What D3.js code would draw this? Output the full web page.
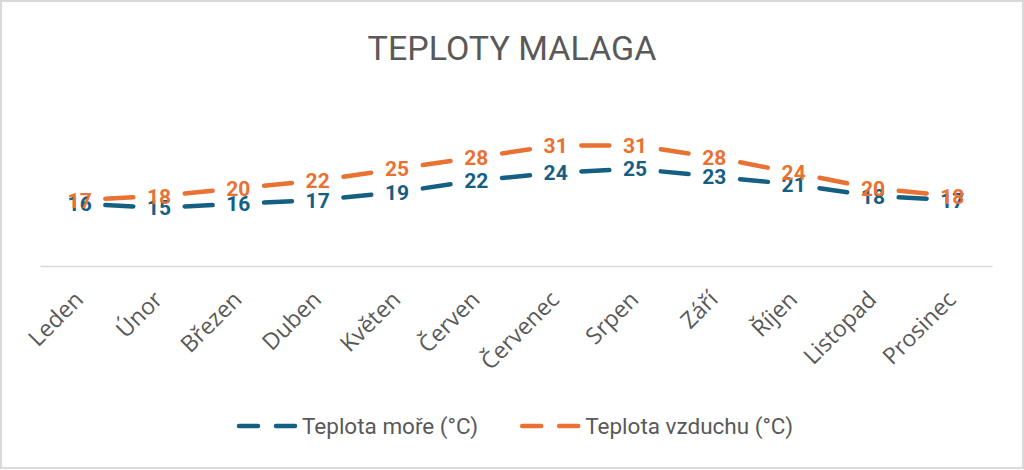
<!DOCTYPE html>
<html>
<head>
<meta charset="utf-8">
<script src="https://cdn.jsdelivr.net/npm/d3@7/dist/d3.min.js"></script>
<style>
  html, body { margin: 0; padding: 0; background: #fff; }
  svg { display: block; }
</style>
</head>
<body>
<div id="chart"></div>
<script>
const width = 1024;
const height = 470;
const margin = { t: 130, r: 32, b: 204, l: 40 };

const title = 'TEPLOTY MALAGA';
const months = ['Leden', 'Únor', 'Březen', 'Duben', 'Květen', 'Červen',
  'Červenec', 'Srpen', 'Září', 'Říjen', 'Listopad', 'Prosinec'];
const seaTemp = [16, 15, 16, 17, 19, 22, 24, 25, 23, 21, 18, 17];
const airTemp = [17, 18, 20, 22, 25, 28, 31, 31, 28, 24, 20, 18];
const seriesNames = ['Teplota moře (°C)', 'Teplota vzduchu (°C)'];
const seriesColors = ['#156082', '#E97132'];
const yMax = 35;

const series = [
  { name: seriesNames[0], values: seaTemp, color: seriesColors[0] },
  { name: seriesNames[1], values: airTemp, color: seriesColors[1] }
];

const dashLen = 28;

const svg = d3.select('#chart').append('svg')
  .attr('width', width)
  .attr('height', height);

svg.append('rect')
  .attr('x', 1).attr('y', 1)
  .attr('width', width - 2).attr('height', height - 3)
  .attr('fill', '#fff')
  .attr('stroke', '#d9d9d9')
  .attr('stroke-width', 2);

svg.append('text')
  .attr('x', width / 2)
  .attr('y', 60)
  .attr('text-anchor', 'middle')
  .style('font-family', 'Roboto, sans-serif')
  .style('font-size', '34px')
  .style('fill', '#595959')
  .text(title);

const W = width - margin.l - margin.r;
const H = height - margin.t - margin.b;

const x = d3.scaleBand()
  .domain(months)
  .range([margin.l, margin.l + W]);

const y = d3.scaleLinear()
  .domain([0, yMax])
  .range([margin.t + H, margin.t]);

const cx = d => x(d) + x.bandwidth() / 2;

// Category axis
const xAxis = d3.axisBottom(x).tickSize(0).tickPadding(0);
const gx = svg.append('g')
  .attr('transform', `translate(0, ${y(0)})`)
  .call(xAxis);

gx.select('.domain')
  .attr('stroke', '#d9d9d9')
  .attr('stroke-width', 1.5);

gx.selectAll('.tick text')
  .attr('y', 0)
  .attr('dy', 0)
  .attr('text-anchor', 'end')
  .attr('transform', 'translate(5, 35) rotate(-45)')
  .style('font-family', '"Open Sans", sans-serif')
  .style('font-size', '23px')
  .style('fill', '#595959');

// Lines: one centred dash per segment
series.forEach(s => {
  const pts = s.values.map((v, i) => [cx(months[i]), y(v)]);
  const segs = d3.pairs(pts);
  svg.append('g').selectAll('line')
    .data(segs)
    .enter().append('line')
    .attr('x1', d => d[0][0])
    .attr('y1', d => d[0][1])
    .attr('x2', d => d[1][0])
    .attr('y2', d => d[1][1])
    .attr('stroke', s.color)
    .attr('stroke-width', 4.5)
    .attr('stroke-linecap', 'round')
    .attr('stroke-dasharray', d => {
      const L = Math.hypot(d[1][0] - d[0][0], d[1][1] - d[0][1]);
      return `${dashLen},${L}`;
    })
    .attr('stroke-dashoffset', d => {
      const L = Math.hypot(d[1][0] - d[0][0], d[1][1] - d[0][1]);
      return -(L - dashLen) / 2;
    });
});

// Data labels
series.forEach(s => {
  svg.append('g').selectAll('text')
    .data(s.values)
    .enter().append('text')
    .attr('x', (d, i) => cx(months[i]))
    .attr('y', d => y(d))
    .attr('dy', '0.36em')
    .attr('text-anchor', 'middle')
    .style('font-family', 'Roboto, sans-serif')
    .style('font-weight', 'bold')
    .style('font-size', '21px')
    .style('fill', s.color)
    .text(d => d);
});

// Legend
const legendY = 426;
const lineW = 59;
const itemGap = 44;
const legend = svg.append('g');
const items = legend.selectAll('g')
  .data(series)
  .enter().append('g');

items.append('line')
  .attr('x1', 0).attr('x2', lineW)
  .attr('y1', 0).attr('y2', 0)
  .attr('stroke', d => d.color)
  .attr('stroke-width', 4.5)
  .attr('stroke-linecap', 'round')
  .attr('stroke-dasharray', '19,18');

items.append('text')
  .attr('x', lineW + 4)
  .attr('y', 0)
  .attr('dy', '0.35em')
  .style('font-family', 'Roboto, sans-serif')
  .style('font-size', '22.5px')
  .style('fill', '#595959')
  .text(d => d.name);

const widths = [];
items.each(function () { widths.push(this.getBBox().width); });
const total = d3.sum(widths) + itemGap * (widths.length - 1);
let pos = margin.l + W / 2 - total / 2;
items.attr('transform', (d, i) => {
  const t = `translate(${pos}, ${legendY})`;
  pos += widths[i] + itemGap;
  return t;
});
</script>
</body>
</html>
